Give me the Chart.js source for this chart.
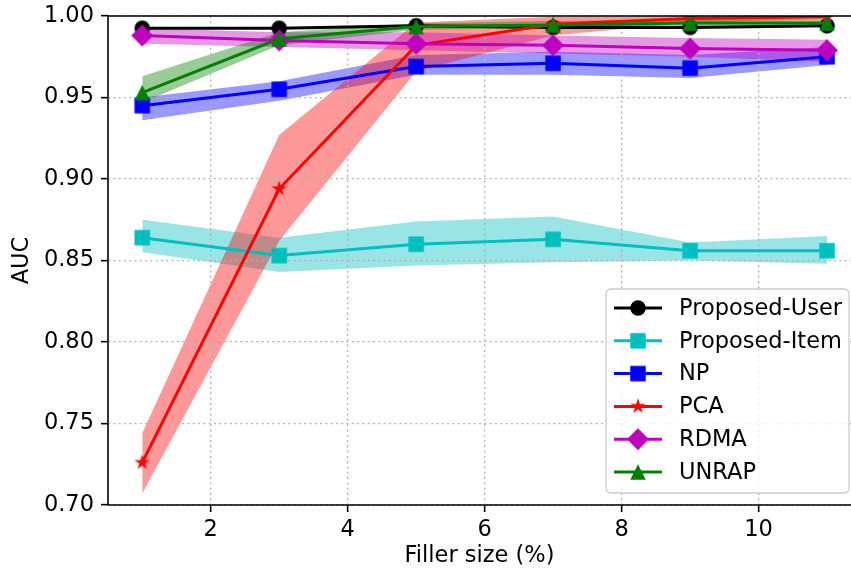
<!DOCTYPE html>
<html>
<head>
<meta charset="utf-8">
<script src="https://cdn.jsdelivr.net/npm/chart.js@4.4.1/dist/chart.umd.min.js"></script>
<style>
html,body{margin:0;padding:0;background:#ffffff;overflow:hidden;}
#wrap{width:851px;height:575px;overflow:hidden;}
canvas{display:block;}
</style>
</head>
<body>
<div id="wrap"><canvas id="c" width="851" height="575"></canvas></div>
<script>
// ---------------- data ----------------
const fillerSize = [1, 3, 5, 7, 9, 11];
const xTickValues = [2, 4, 6, 8, 10];
const yTickValues = [0.70, 0.75, 0.80, 0.85, 0.90, 0.95, 1.00];
const seriesNames = ['Proposed-User', 'Proposed-Item', 'NP', 'PCA', 'RDMA', 'UNRAP'];

const userMean = [0.9925, 0.9925, 0.9940, 0.9930, 0.9930, 0.9940];
const userLow  = [0.9888, 0.9888, 0.9905, 0.9888, 0.9878, 0.9883];
const userHigh = [0.9962, 0.9962, 0.9972, 0.9977, 0.9980, 0.9983];

const itemMean = [0.864, 0.853, 0.860, 0.863, 0.856, 0.856];
const itemLow  = [0.855, 0.843, 0.847, 0.849, 0.850, 0.848];
const itemHigh = [0.875, 0.864, 0.874, 0.877, 0.861, 0.865];

const npMean = [0.945, 0.955, 0.969, 0.971, 0.968, 0.975];
const npLow  = [0.936, 0.948, 0.964, 0.964, 0.962, 0.970];
const npHigh = [0.950, 0.960, 0.976, 0.978, 0.976, 0.981];

const pcaMean = [0.726, 0.894, 0.982, 0.995, 0.9985, 0.9995];
const pcaLow  = [0.707, 0.862, 0.966, 0.988, 0.996, 0.998];
const pcaHigh = [0.744, 0.927, 0.996, 0.9995, 1.000, 1.000];

const rdmaMean = [0.988, 0.985, 0.983, 0.982, 0.980, 0.979];
const rdmaLow  = [0.983, 0.981, 0.979, 0.977, 0.975, 0.972];
const rdmaHigh = [0.9925, 0.990, 0.990, 0.988, 0.9865, 0.9855];

const unrapMean = [0.953, 0.986, 0.9935, 0.9945, 0.9957, 0.9957];
const unrapLow  = [0.947, 0.982, 0.9915, 0.9925, 0.9935, 0.9935];
const unrapHigh = [0.963, 0.990, 0.9955, 0.9970, 0.9980, 0.9980];

// ---------------- styles ----------------
const means = [userMean, itemMean, npMean, pcaMean, rdmaMean, unrapMean];
const lows  = [userLow, itemLow, npLow, pcaLow, rdmaLow, unrapLow];
const highs = [userHigh, itemHigh, npHigh, pcaHigh, rdmaHigh, unrapHigh];
const styles = [
  {color: '#000000', band: 'rgba(0,0,0,0.4)',     marker: 'circle'},
  {color: '#00bfbf', band: 'rgba(0,191,191,0.4)', marker: 'square'},
  {color: '#0000ff', band: 'rgba(0,0,255,0.4)',   marker: 'square'},
  {color: '#ff0000', band: 'rgba(255,0,0,0.4)',   marker: 'star'},
  {color: '#bf00bf', band: 'rgba(191,0,191,0.4)', marker: 'diamond'},
  {color: '#008000', band: 'rgba(0,128,0,0.4)',   marker: 'triangle'}
];
const MS = 15.5; // marker size (px)
const FONT = 22.5;
const TARGET_TOP = 16, TARGET_LEFT = 108, TARGET_BOTTOM = 505;

function makeMarker(shape, color) {
  const S = Math.ceil(MS * 1.5) + 4;
  const cv = document.createElement('canvas');
  cv.width = S; cv.height = S;
  const c = cv.getContext('2d');
  const cx = S / 2, cy = S / 2, h = MS / 2;
  c.fillStyle = color;
  c.beginPath();
  if (shape === 'circle') {
    c.arc(cx, cy, h, 0, Math.PI * 2);
  } else if (shape === 'square') {
    c.rect(cx - h, cy - h, MS, MS);
  } else if (shape === 'diamond') {
    const d = h * Math.SQRT2;
    c.moveTo(cx, cy - d); c.lineTo(cx + d, cy); c.lineTo(cx, cy + d); c.lineTo(cx - d, cy);
  } else if (shape === 'triangle') {
    c.moveTo(cx, cy - h); c.lineTo(cx + h, cy + h); c.lineTo(cx - h, cy + h);
  } else if (shape === 'star') {
    const R = h * 1.05, r = R * 0.381966;
    for (let i = 0; i < 10; i++) {
      const rad = (i % 2 === 0) ? R : r;
      const a = -Math.PI / 2 + i * Math.PI / 5;
      const px = cx + rad * Math.cos(a), py = cy + rad * Math.sin(a);
      if (i === 0) c.moveTo(px, py); else c.lineTo(px, py);
    }
  }
  c.closePath();
  c.fill();
  return cv;
}
const markerImgs = styles.map(s => makeMarker(s.marker, s.color));

// ---------------- datasets ----------------
const toXY = arr => arr.map((v, i) => ({x: fillerSize[i], y: v}));
const datasets = [];
seriesNames.forEach((name, k) => {
  const lowIdx = datasets.length;
  datasets.push({label: name + ' low', data: toXY(lows[k]), borderWidth: 0, borderColor: 'rgba(0,0,0,0)',
    pointRadius: 0, fill: false, order: 100 - k});
  datasets.push({label: name + ' high', data: toXY(highs[k]), borderWidth: 0, borderColor: 'rgba(0,0,0,0)',
    pointRadius: 0, backgroundColor: styles[k].band, fill: {target: lowIdx}, order: 100 - k});
});
seriesNames.forEach((name, k) => {
  datasets.push({label: name, data: toXY(means[k]), borderColor: styles[k].color, backgroundColor: styles[k].color,
    borderWidth: 3, pointStyle: markerImgs[k], pointRadius: 8, fill: false, tension: 0, order: 10 - k});
});

// ---------------- plugins ----------------
const spines = {
  id: 'spines',
  afterDatasetsDraw(chart) {
    const {ctx, chartArea: a} = chart;
    ctx.save();
    ctx.strokeStyle = '#000';
    ctx.lineWidth = 1.6;
    ctx.setLineDash([]);
    ctx.beginPath();
    ctx.moveTo(a.left, a.top); ctx.lineTo(a.right, a.top);
    ctx.moveTo(a.left, a.top); ctx.lineTo(a.left, a.bottom);
    ctx.moveTo(a.left, a.bottom); ctx.lineTo(a.right, a.bottom);
    ctx.stroke();
    ctx.restore();
  }
};

const mplLegend = {
  id: 'mplLegend',
  afterDraw(chart) {
    const {ctx, chartArea: a} = chart;
    const w = 243, h = 204;
    const x0 = a.right - w - 2, y0 = a.bottom - h - 12;
    ctx.save();
    ctx.setLineDash([]);
    const r = 5;
    ctx.beginPath();
    ctx.moveTo(x0 + r, y0);
    ctx.arcTo(x0 + w, y0, x0 + w, y0 + h, r);
    ctx.arcTo(x0 + w, y0 + h, x0, y0 + h, r);
    ctx.arcTo(x0, y0 + h, x0, y0, r);
    ctx.arcTo(x0, y0, x0 + w, y0, r);
    ctx.closePath();
    ctx.fillStyle = 'rgba(255,255,255,0.8)';
    ctx.fill();
    ctx.strokeStyle = '#cccccc';
    ctx.lineWidth = 1.3;
    ctx.stroke();
    ctx.font = FONT + "px 'DejaVu Sans'";
    ctx.textBaseline = 'middle';
    ctx.textAlign = 'left';
    seriesNames.forEach((name, k) => {
      const y = y0 + 19 + k * 32.8;
      ctx.strokeStyle = styles[k].color;
      ctx.lineWidth = 3;
      ctx.beginPath();
      ctx.moveTo(x0 + 8, y); ctx.lineTo(x0 + 56, y);
      ctx.stroke();
      const img = markerImgs[k];
      ctx.drawImage(img, x0 + 32 - img.width / 2, y - img.height / 2);
      ctx.fillStyle = '#000';
      ctx.fillText(name, x0 + 73, y + 1);
    });
    ctx.restore();
  }
};

// ---------------- chart ----------------
Chart.defaults.font.family = "'DejaVu Sans', sans-serif";
Chart.defaults.font.size = FONT;
Chart.defaults.color = '#000';

new Chart(document.getElementById('c'), {
  type: 'line',
  data: {datasets},
  options: {
    responsive: false,
    animation: false,
    events: [],
    layout: {autoPadding: false, padding: {top: TARGET_TOP, right: 0, bottom: 0, left: 0}},
    plugins: {
      legend: {display: false},
      tooltip: {enabled: false},
      filler: {drawTime: 'beforeDraw', propagate: false}
    },
    scales: {
      x: {
        type: 'linear',
        min: 0.5,
        max: 11.35,
        afterBuildTicks: s => { s.ticks = xTickValues.map(v => ({value: v})); },
        afterFit: s => { s.height = 575 - TARGET_BOTTOM; s.paddingLeft = 0; s.paddingRight = 0; },
        ticks: {color: '#000', font: {size: FONT}, padding: 5, autoSkip: false, maxRotation: 0, minRotation: 0,
          callback: v => String(v)},
        grid: {color: '#b0b0b0', lineWidth: 1.3, drawTicks: true, tickLength: 7, tickColor: '#000', tickWidth: 1.6,
          tickBorderDash: []},
        border: {display: false, dash: [2, 3.3]},
        title: {display: true, text: 'Filler size (%)', color: '#000', font: {size: FONT}, padding: {top: 0, bottom: 5}}
      },
      y: {
        type: 'linear',
        min: 0.70,
        max: 1.00,
        afterBuildTicks: s => { s.ticks = yTickValues.map(v => ({value: v})); },
        afterFit: s => { s.width = TARGET_LEFT; s.paddingTop = 0; s.paddingBottom = 0; },
        ticks: {color: '#000', font: {size: FONT}, padding: 7, autoSkip: false,
          callback: v => Number(v).toFixed(2)},
        grid: {color: '#b0b0b0', lineWidth: 1.3, drawTicks: true, tickLength: 7, tickColor: '#000', tickWidth: 1.6,
          tickBorderDash: []},
        border: {display: false, dash: [2, 3.3]},
        title: {display: true, text: 'AUC', color: '#000', font: {size: FONT}, padding: {top: 9, bottom: 0}}
      }
    }
  },
  plugins: [spines, mplLegend]
});
</script>
</body>
</html>
